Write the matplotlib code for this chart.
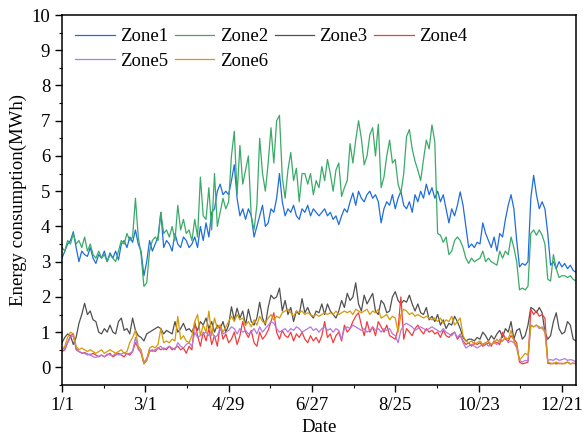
import numpy as np
import matplotlib
matplotlib.use("Agg")
import matplotlib.pyplot as plt
from matplotlib.ticker import MultipleLocator

# Values every 2 days, starting 1/1
zone1 = [3.1,3.3,3.5,3.6,3.85,3.4,3.0,3.3,3.2,3.15,3.4,3.1,2.95,3.2,3.1,3.3,3.0,3.25,3.1,3.3,
         3.05,3.5,3.6,3.4,3.7,3.55,3.9,3.5,3.3,2.6,3.0,3.6,3.3,3.5,3.7,4.4,3.4,3.6,3.5,3.3,
         3.8,3.5,3.4,3.7,3.6,3.4,3.5,3.7,3.4,4.0,3.6,4.1,3.7,4.4,4.5,5.0,5.2,4.9,5.0,4.9,
         5.3,5.75,4.8,4.3,4.5,4.2,4.5,4.3,3.7,4.0,4.3,4.6,4.0,4.1,4.5,4.4,4.8,5.5,4.7,4.3,
         4.5,4.4,4.6,4.3,4.2,4.5,4.4,4.6,4.3,4.5,4.4,4.3,4.4,4.5,4.3,4.4,4.2,4.3,4.05,4.3,
         4.5,4.4,4.7,4.95,4.6,5.0,4.8,4.7,4.9,5.0,4.8,4.9,4.7,4.1,4.5,4.7,4.6,4.9,4.5,4.8,
         5.0,4.6,4.5,4.7,4.4,4.9,4.7,5.0,4.8,5.2,4.9,5.1,4.8,5.0,4.7,4.9,4.5,4.1,4.5,4.3,
         4.6,4.98,4.6,4.0,3.4,3.5,3.4,3.55,3.5,4.1,3.8,3.6,3.4,3.7,3.3,3.8,3.7,4.2,4.6,4.9,
         4.5,3.6,2.85,2.95,2.9,3.0,4.8,5.45,4.9,4.5,4.7,4.5,3.8,2.9,3.0,2.8,3.0,2.85,2.95,2.8,
         2.9,2.75,2.7]
zone2 = [3.4,3.3,3.6,3.5,3.8,3.5,3.6,3.4,3.7,3.3,3.5,3.2,3.1,3.3,3.1,3.2,3.0,3.2,3.1,3.0,
         3.3,3.6,3.5,3.8,3.6,3.7,4.8,3.7,3.2,2.3,2.4,3.3,3.6,3.7,3.6,4.4,3.8,3.9,3.7,4.0,
         3.6,4.6,3.9,4.2,3.8,3.9,3.6,4.2,3.7,5.4,4.3,4.2,5.1,3.9,5.5,4.0,4.4,4.8,4.5,4.7,
         6.0,6.7,4.9,6.3,5.2,5.6,6.0,4.3,3.9,4.6,6.5,5.5,5.0,5.8,6.8,5.8,7.0,7.15,5.4,4.8,
         5.6,6.1,5.3,5.65,4.7,5.5,5.5,5.2,5.5,4.9,5.3,5.1,5.7,5.3,5.9,5.5,5.0,5.6,5.8,4.85,
         5.1,5.3,6.35,5.8,6.45,7.0,6.5,5.75,6.0,6.6,6.8,6.0,6.9,5.1,5.4,6.0,6.45,5.8,5.9,5.2,
         4.95,5.5,6.55,6.75,6.2,5.85,5.6,5.3,5.9,6.45,6.2,6.88,6.4,3.8,3.75,3.55,3.7,3.2,3.3,3.6,
         3.7,3.6,3.4,3.1,2.95,3.1,3.0,3.05,3.1,3.3,3.0,3.1,3.0,2.95,2.9,3.3,3.1,3.3,3.2,3.7,
         3.4,3.0,2.2,2.25,2.2,2.3,3.8,3.9,3.75,3.9,3.75,3.5,2.5,2.45,3.2,2.8,2.55,2.6,2.6,2.55,
         2.6,2.5,2.45]
zone3 = [0.7,0.85,0.95,0.9,0.65,0.85,1.25,1.5,1.82,1.5,1.6,1.35,1.3,1.0,0.95,1.1,1.0,1.2,1.0,0.95,
         1.3,1.4,1.05,1.1,0.95,1.4,1.05,0.9,0.85,0.75,0.95,1.0,1.05,1.1,1.15,1.1,0.95,1.05,1.0,0.95,
         1.3,1.0,1.1,1.25,1.05,1.1,1.0,1.2,1.05,1.3,1.2,1.4,1.1,1.3,1.0,1.2,1.1,1.3,1.0,1.2,
         1.72,1.35,1.68,1.4,1.6,1.2,1.65,1.3,1.2,1.4,1.85,1.4,1.2,1.7,2.05,1.95,2.0,2.25,1.6,1.9,
         1.5,1.7,1.3,1.6,1.5,1.95,1.55,1.7,1.5,1.4,1.6,1.55,1.8,1.5,1.8,1.6,1.5,1.4,1.6,1.9,
         1.7,2.1,1.9,2.0,2.4,1.8,1.6,2.05,1.8,1.95,2.1,1.6,1.5,1.9,1.8,1.55,1.6,2.0,2.15,1.9,
         1.8,1.9,1.85,2.05,1.8,1.6,1.8,1.55,1.5,1.7,1.35,1.45,1.3,1.5,1.2,1.35,1.1,1.25,1.2,1.45,
         1.3,1.1,0.85,0.75,0.8,0.8,0.75,0.85,0.8,1.0,0.9,0.75,0.9,0.8,0.95,1.05,0.85,1.1,1.0,1.3,
         0.8,1.05,1.1,0.8,0.9,1.2,1.7,1.65,1.55,1.7,1.55,1.0,0.8,0.9,1.3,1.55,1.1,0.95,1.0,1.3,
         1.2,0.8,0.75]
zone4 = [0.45,0.5,0.7,0.9,0.95,0.5,0.45,0.4,0.42,0.38,0.35,0.4,0.35,0.3,0.35,0.3,0.35,0.4,0.3,0.35,
         0.4,0.35,0.3,0.4,0.35,0.45,0.7,0.55,0.4,0.1,0.2,0.45,0.5,0.45,0.55,0.5,0.55,0.5,0.6,0.5,
         0.55,0.6,0.5,0.55,0.4,0.6,0.5,1.3,0.9,0.6,1.0,0.75,1.1,0.65,0.9,0.6,1.2,0.8,0.95,0.7,
         0.8,1.0,0.65,0.9,1.3,1.0,0.85,1.05,0.7,0.6,1.0,0.8,0.9,1.05,1.3,1.55,1.0,0.8,1.05,0.9,
         0.85,1.0,0.75,0.95,0.85,1.0,0.8,0.7,0.9,0.75,0.85,0.7,0.9,1.3,0.85,0.95,0.7,0.9,1.0,0.75,
         1.2,1.0,1.1,1.3,1.45,1.55,1.2,0.9,1.3,1.0,1.15,0.9,1.3,1.15,1.0,1.2,0.9,0.85,0.8,1.1,
         2.0,0.8,1.1,1.0,0.9,1.1,1.2,1.05,0.95,1.1,1.0,1.05,0.95,1.0,0.85,1.05,0.9,0.85,0.95,1.0,
         0.8,0.9,0.75,0.65,0.7,0.6,0.7,0.65,0.7,0.6,0.65,0.7,0.6,0.75,0.7,0.65,1.0,0.8,0.75,0.9,
         0.8,0.7,0.15,0.1,0.12,0.15,1.65,1.5,1.6,1.45,1.5,1.4,0.12,0.1,0.12,0.1,0.12,0.1,0.12,0.15,
         0.1,0.12,0.1]
zone5 = [0.5,0.55,0.7,0.85,0.9,0.55,0.45,0.42,0.4,0.35,0.38,0.3,0.28,0.32,0.35,0.3,0.38,0.35,0.33,0.4,
         0.35,0.38,0.42,0.38,0.4,0.45,0.85,0.5,0.45,0.15,0.25,0.5,0.45,0.5,0.55,0.6,0.5,0.55,0.6,0.55,
         0.5,0.7,0.6,0.55,0.65,0.7,0.6,1.0,0.85,0.9,0.95,1.0,0.9,1.05,0.85,0.9,1.1,0.95,1.0,1.05,
         1.15,1.1,0.95,1.1,1.0,1.05,0.95,1.0,1.1,0.95,1.15,1.0,1.1,1.2,1.3,1.25,1.1,1.0,1.05,1.1,
         1.0,1.1,1.05,1.15,1.1,1.0,1.05,1.1,1.15,1.05,1.1,1.0,1.1,1.15,1.05,1.1,1.0,1.1,1.05,0.8,
         1.1,1.15,1.1,1.2,1.15,1.1,1.05,1.1,1.0,1.05,1.15,1.05,1.1,1.0,1.1,1.05,1.1,0.95,0.9,0.7,
         1.05,1.2,1.25,1.2,1.15,1.05,1.1,1.15,1.1,1.05,1.1,1.15,1.1,1.05,1.0,1.1,1.0,0.95,0.9,1.0,
         0.85,0.95,0.7,0.55,0.6,0.65,0.6,0.55,0.6,0.65,0.7,0.6,0.65,0.7,0.65,0.8,0.75,0.85,0.7,0.75,
         0.7,0.55,0.2,0.15,0.2,0.18,1.2,1.15,1.2,1.1,1.15,1.05,0.2,0.22,0.2,0.25,0.2,0.22,0.25,0.2,
         0.22,0.2,0.15]
zone6 = [0.5,0.6,0.85,1.0,0.95,0.6,0.5,0.55,0.5,0.45,0.5,0.45,0.4,0.45,0.5,0.4,0.45,0.5,0.45,0.4,
         0.45,0.5,0.4,0.45,0.7,0.85,1.05,0.6,0.5,0.1,0.2,0.55,0.6,0.55,0.65,1.1,0.7,0.75,0.7,0.8,
         0.75,1.45,0.8,0.9,0.75,0.7,0.9,1.3,1.5,0.9,1.2,1.0,1.6,0.9,1.4,1.1,1.2,1.0,1.15,1.3,
         1.45,1.3,1.5,1.35,1.4,1.2,1.3,1.15,1.35,1.2,1.45,1.3,1.25,1.4,1.5,1.35,1.45,1.4,1.55,1.6,
         1.65,1.55,1.45,1.6,1.55,1.6,1.5,1.55,1.5,1.45,1.5,1.45,1.5,1.55,1.5,1.55,1.5,1.6,1.5,1.55,
         1.6,1.55,1.6,1.5,1.65,1.6,1.55,1.6,1.65,1.5,1.6,1.55,1.65,1.4,1.45,1.5,1.35,1.45,1.4,1.0,
         1.5,1.65,1.6,1.5,1.55,1.45,1.5,1.45,1.4,1.45,1.4,1.35,1.4,1.3,1.4,1.25,1.35,1.3,1.45,1.2,
         1.3,1.4,0.9,0.75,0.7,0.75,0.65,0.7,0.75,0.65,0.7,0.75,0.65,0.7,0.8,0.7,0.75,0.85,0.8,1.05,
         0.75,0.6,0.2,0.3,0.4,0.35,1.2,1.15,1.2,1.15,1.1,1.0,0.15,0.12,0.1,0.15,0.1,0.12,0.1,0.15,
         0.1,0.12,0.1]

names = ["Zone1", "Zone2", "Zone3", "Zone4", "Zone5", "Zone6"]
series = [zone1, zone2, zone3, zone4, zone5, zone6]
colors = ["#1f6ddc", "#3aaa68", "#505050", "#f23c3c", "#b478e0", "#d49a08"]
tick_days = [0, 59, 118, 177, 236, 295, 354]
tick_labels = ["1/1", "3/1", "4/29", "6/27", "8/25", "10/23", "12/21"]
step_days = 2

plt.rcParams['font.family'] = ['Liberation Serif', 'DejaVu Serif']

fig = plt.figure(figsize=(5.84, 4.45), dpi=100)
ax = fig.add_axes([62/584, 1-385/445, (576-62)/584, (385-15)/445])

handles = []
for name, vals, c in zip(names, series, colors):
    x = np.arange(len(vals)) * step_days
    h, = ax.plot(x, vals, color=c, lw=0.9, label=name)
    handles.append(h)

ax.set_xlim(0, 364)
ax.set_ylim(-0.5, 10)
ax.set_xticks(tick_days)
ax.set_xticklabels(tick_labels)
ax.xaxis.set_minor_locator(MultipleLocator(29.5))
ax.yaxis.set_major_locator(MultipleLocator(1))
ax.yaxis.set_minor_locator(MultipleLocator(0.5))
ax.tick_params(axis='both', which='major', labelsize=13.5, length=5, width=1, direction='out')
ax.tick_params(axis='both', which='minor', length=2.5, width=0.8, direction='out')
for s in ax.spines.values():
    s.set_linewidth(1.1)

ax.set_xlabel("Date", fontsize=13.5, labelpad=4)
ax.set_ylabel("Energy consumption(MWh)", fontsize=13.5, labelpad=3)

# row-major order: Zone1..Zone4 in first row, Zone5, Zone6 in second
order = [0, 4, 1, 5, 2, 3]
ax.legend([handles[i] for i in order], [names[i] for i in order],
          loc='upper left', ncol=4, frameon=False, fontsize=13.5,
          handlelength=2.1, handletextpad=0.3, columnspacing=0.35,
          labelspacing=0.4, borderaxespad=0.3, bbox_to_anchor=(0.0, 1.0))

fig.savefig("out.png", dpi=100)
